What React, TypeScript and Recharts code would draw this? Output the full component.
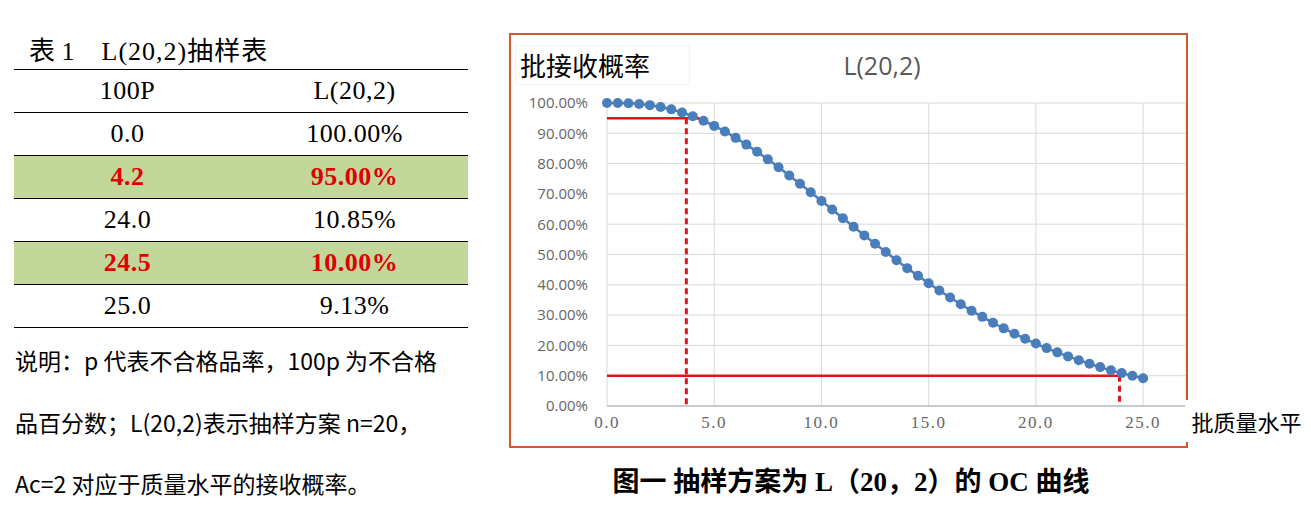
import React from 'react';
import {
  LineChart,
  Line,
  XAxis,
  YAxis,
  CartesianGrid,
  ReferenceLine,
} from 'recharts';

// 100p (lot quality level) and acceptance probability for L(20,2)
const qualityLevels = [
  0, 0.5, 1, 1.5, 2, 2.5, 3, 3.5, 4, 4.5, 5, 5.5, 6, 6.5, 7, 7.5, 8, 8.5, 9, 9.5,
  10, 10.5, 11, 11.5, 12, 12.5, 13, 13.5, 14, 14.5, 15, 15.5, 16, 16.5, 17, 17.5,
  18, 18.5, 19, 19.5, 20, 20.5, 21, 21.5, 22, 22.5, 23, 23.5, 24, 24.5, 25,
];
const acceptProb = [
  1.0, 0.9999, 0.999, 0.9968, 0.9929, 0.987, 0.979, 0.9687, 0.9562, 0.9414, 0.9245,
  0.9057, 0.885, 0.8627, 0.839, 0.814, 0.7879, 0.761, 0.7334, 0.7054, 0.6769, 0.6484,
  0.6198, 0.5913, 0.5631, 0.5353, 0.508, 0.4812, 0.455, 0.4296, 0.4049, 0.381, 0.358,
  0.3358, 0.3146, 0.2942, 0.2748, 0.2563, 0.2387, 0.2219, 0.2061, 0.1911, 0.177,
  0.1637, 0.1512, 0.1394, 0.1284, 0.1182, 0.1085, 0.0996, 0.0913,
];

const xTicks = [0, 5, 10, 15, 20, 25, 27];
const yTicks = [0, 0.1, 0.2, 0.3, 0.4, 0.5, 0.6, 0.7, 0.8, 0.9, 1];

// hand-drawn marker lines on the figure
const upperMark = { x: 3.7, xEnd: 4.3, y: 0.95 };
const lowerMark = { x: 23.9, y: 0.1 };

// table 1
const tableP = ['0.0', '4.2', '24.0', '24.5', '25.0'];
const tableProb = ['100.00%', '95.00%', '10.85%', '10.00%', '9.13%'];
const tableHighlight = [false, true, false, true, false];

const noteLines = [
  '说明：p 代表不合格品率，100p 为不合格',
  '品百分数；L(20,2)表示抽样方案 n=20，',
  'Ac=2 对应于质量水平的接收概率。',
];

const data = qualityLevels.map((x, i) => ({ x, p: acceptProb[i] }));

const serif = '"Liberation Serif", "Noto Sans CJK SC", serif';
const cjk = '"Noto Sans CJK SC", "Noto Sans", sans-serif';

const XTick = (props: any) => {
  const { x, y, payload } = props;
  if (payload.value === 27) return null;
  return (
    <text
      x={x}
      y={y}
      dy="0.71em"
      textAnchor="middle"
      fill="#666"
      fontSize={17}
      fontFamily={serif}
      style={{ letterSpacing: 1.5 }}
    >
      {payload.value.toFixed(1)}
    </text>
  );
};

function SampleTable() {
  const cell: React.CSSProperties = {
    flex: 1,
    textAlign: 'center',
    lineHeight: '42px',
    letterSpacing: 0.5,
  };
  return (
    <div
      style={{
        position: 'absolute',
        left: 14,
        top: 69,
        width: 454,
        borderTop: '1px solid #000',
        fontFamily: serif,
        fontSize: 26,
      }}
    >
      <div style={{ display: 'flex', height: 42, borderBottom: '1px solid #000' }}>
        <div style={cell}>100P</div>
        <div style={cell}>L(20,2)</div>
      </div>
      {tableP.map((p, i) => {
        const hl = tableHighlight[i];
        const rowStyle: React.CSSProperties = {
          display: 'flex',
          height: 42,
          borderBottom: '1px solid #000',
          background: hl ? '#c4d79b' : '#fff',
          color: hl ? '#e00000' : '#000',
          fontWeight: hl ? 700 : 400,
        };
        return (
          <div key={p} style={rowStyle}>
            <div style={cell}>{p}</div>
            <div style={cell}>{tableProb[i]}</div>
          </div>
        );
      })}
    </div>
  );
}

export default function App() {
  return (
    <div
      style={{
        position: 'absolute',
        left: 0,
        top: 0,
        width: 1311,
        height: 520,
        background: '#fff',
        overflow: 'hidden',
      }}
    >
      {/* table title */}
      <div
        style={{
          position: 'absolute',
          left: 29,
          top: 37,
          fontFamily: serif,
          fontSize: 26,
          lineHeight: '30px',
          whiteSpace: 'nowrap',
        }}
      >
        <span>表 1</span>
        <span style={{ marginLeft: 27, letterSpacing: 1 }}>L(20,2)抽样表</span>
      </div>

      <SampleTable />

      {noteLines.map((t, i) => (
        <div
          key={i}
          style={{
            position: 'absolute',
            left: 15,
            top: 345 + i * 61.5,
            fontFamily: cjk,
            fontSize: 23,
            lineHeight: '30px',
            whiteSpace: 'nowrap',
          }}
        >
          {t}
        </div>
      ))}

      {/* chart frame */}
      <div
        style={{
          position: 'absolute',
          left: 509,
          top: 33,
          width: 679,
          height: 415,
          boxSizing: 'border-box',
          border: '2px solid #d0582a',
          background: '#fff',
        }}
      >
        <LineChart
          width={675}
          height={411}
          data={data}
          margin={{ top: 68, right: 0, left: 0, bottom: 0 }}
        >
          <CartesianGrid stroke="#d9d9d9" strokeWidth={1} />
          <XAxis
            type="number"
            dataKey="x"
            domain={[0, 27]}
            ticks={xTicks}
            height={40}
            tick={<XTick />}
            tickLine={false}
            tickMargin={4}
            axisLine={{ stroke: '#bfbfbf', strokeWidth: 1.5 }}
            interval={0}
          />
          <YAxis
            type="number"
            domain={[0, 1]}
            ticks={yTicks}
            width={96}
            tickLine={false}
            axisLine={false}
            tickMargin={13}
            tickFormatter={(v: number) => `${(v * 100).toFixed(2)}%`}
            tick={{ fill: '#666', fontSize: 15, fontFamily: '"Open Sans", sans-serif' }}
            interval={0}
          />
          <Line
            type="monotone"
            dataKey="p"
            stroke="#4a7ebb"
            strokeWidth={2.5}
            dot={{ r: 5, fill: '#4a7ebb', stroke: 'none' }}
            isAnimationActive={false}
          />
          <ReferenceLine
            segment={[
              { x: 0, y: upperMark.y },
              { x: upperMark.xEnd, y: upperMark.y },
            ]}
            stroke="#e0161b"
            strokeWidth={2.5}
          />
          <ReferenceLine
            segment={[
              { x: upperMark.x, y: upperMark.y },
              { x: upperMark.x, y: 0 },
            ]}
            stroke="#e0161b"
            strokeWidth={3}
            strokeDasharray="6 4"
          />
          <ReferenceLine
            segment={[
              { x: 0, y: lowerMark.y },
              { x: lowerMark.x, y: lowerMark.y },
            ]}
            stroke="#e0161b"
            strokeWidth={2.5}
          />
          <ReferenceLine
            segment={[
              { x: lowerMark.x, y: lowerMark.y },
              { x: lowerMark.x, y: 0 },
            ]}
            stroke="#e0161b"
            strokeWidth={3}
            strokeDasharray="6 4"
          />
        </LineChart>
      </div>

      {/* y axis title box */}
      <div
        style={{
          position: 'absolute',
          left: 515,
          top: 45,
          width: 175,
          height: 40,
          background: '#fff',
          border: '1px solid #f2f2f2',
          boxSizing: 'border-box',
          fontFamily: cjk,
          fontSize: 26,
          lineHeight: '38px',
          paddingLeft: 4,
          color: '#000',
        }}
      >
        批接收概率
      </div>

      {/* chart title */}
      <div
        style={{
          position: 'absolute',
          left: 782,
          top: 50,
          width: 200,
          textAlign: 'center',
          fontFamily: '"Open Sans", sans-serif',
          fontSize: 25,
          lineHeight: '30px',
          color: '#595959',
        }}
      >
        L(20,2)
      </div>

      {/* x axis title box */}
      <div
        style={{
          position: 'absolute',
          left: 1185,
          top: 400,
          width: 123,
          height: 42,
          background: '#fff',
          fontFamily: cjk,
          fontSize: 22,
          lineHeight: '42px',
          textAlign: 'center',
          color: '#000',
        }}
      >
        批质量水平
      </div>

      {/* figure caption */}
      <div
        style={{
          position: 'absolute',
          left: 551,
          top: 465,
          width: 600,
          textAlign: 'center',
          fontFamily: '"Liberation Serif", "Noto Sans CJK SC", serif',
          fontWeight: 700,
          fontSize: 27,
          lineHeight: '34px',
          whiteSpace: 'nowrap',
        }}
      >
        图一 抽样方案为 L（20，2）的 OC 曲线
      </div>
    </div>
  );
}
